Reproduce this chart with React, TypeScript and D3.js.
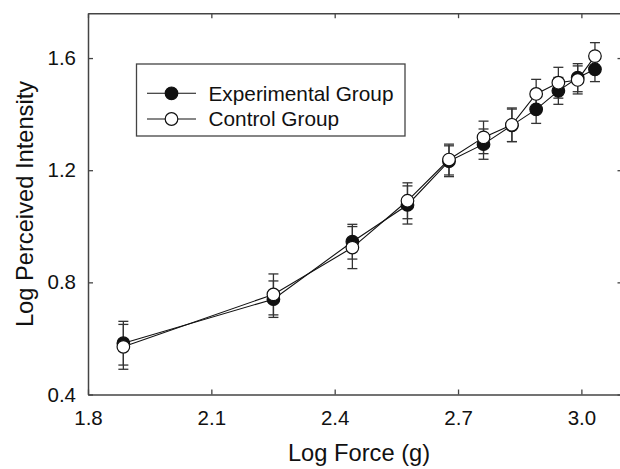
import React, { useEffect, useRef } from "react";
import * as d3 from "d3";

// log force levels (g) and group means / SE
const logForce = [1.886, 2.251, 2.443, 2.577, 2.678, 2.762, 2.831, 2.89, 2.944, 2.991, 3.033];
const experimental = [0.583, 0.74, 0.945, 1.076, 1.232, 1.293, 1.36, 1.417, 1.483, 1.53, 1.56];
const experimentalErr = [0.078, 0.065, 0.062, 0.068, 0.055, 0.054, 0.058, 0.05, 0.048, 0.05, 0.044];
const control = [0.57, 0.757, 0.924, 1.091, 1.238, 1.317, 1.362, 1.472, 1.512, 1.522, 1.607];
const controlErr = [0.08, 0.073, 0.075, 0.064, 0.055, 0.058, 0.06, 0.052, 0.055, 0.05, 0.048];
const xTicks = [1.8, 2.1, 2.4, 2.7, 3.0];
const yTicks = [0.4, 0.8, 1.2, 1.6];
const seriesNames = ["Experimental Group", "Control Group"];

const W = 620;
const H = 469;
const FONT = "'Liberation Sans', Arial, Helvetica, sans-serif";
const AXIS = "#444";

const x = d3.scaleLinear().domain([1.8, 3.1]).range([88, 622.5]);
const y = d3.scaleLinear().domain([0.4, 1.76]).range([394.5, 13.2]);

const App = () => {
  const ref = useRef<SVGGElement>(null);

  useEffect(() => {
    const g = d3.select(ref.current);
    g.selectAll("*").remove();

    const series = [
      { name: seriesNames[0], mean: experimental, err: experimentalErr, fill: "#111" },
      { name: seriesNames[1], mean: control, err: controlErr, fill: "#fff" },
    ];

    // frame axes, ticks inward
    const bottom = g.append("g").attr("transform", `translate(0,${y.range()[0]})`)
      .call(d3.axisBottom(x).tickValues(xTicks).tickFormat(d3.format(".1f"))
        .tickSizeInner(-5).tickSizeOuter(0).tickPadding(15.5));
    const left = g.append("g").attr("transform", `translate(${x.range()[0]},0)`)
      .call(d3.axisLeft(y).tickValues(yTicks).tickFormat(d3.format(".1f"))
        .tickSizeInner(-5).tickSizeOuter(0).tickPadding(12));
    const top = g.append("g").attr("transform", `translate(0,${y.range()[1]})`)
      .call(d3.axisTop(x).tickValues(xTicks).tickFormat(() => "")
        .tickSizeInner(-5).tickSizeOuter(0));
    const right = g.append("g").attr("transform", `translate(${x.range()[1]},0)`)
      .call(d3.axisRight(y).tickValues(yTicks).tickFormat(() => "")
        .tickSizeInner(-5).tickSizeOuter(0));

    [bottom, left, top, right].forEach(a => {
      a.select(".domain").attr("stroke", AXIS).attr("stroke-width", 1.5);
      a.selectAll(".tick line").attr("stroke", AXIS).attr("stroke-width", 1.3);
      a.selectAll("text").attr("fill", "#111").style("font-family", FONT).style("font-size", "20.5px");
    });

    // lines
    const line = d3.line<number>().x((d, i) => x(logForce[i])).y(d => y(d));
    series.forEach(s => {
      g.append("path")
        .attr("d", line(s.mean))
        .attr("fill", "none")
        .attr("stroke", "#111")
        .attr("stroke-width", 1.1);
    });

    // error bars
    series.forEach(s => {
      const eb = g.append("g").attr("stroke", "#333").attr("stroke-width", 1.3);
      s.mean.forEach((m, i) => {
        const cx = x(logForce[i]);
        const lo = y(m - s.err[i]);
        const hi = y(m + s.err[i]);
        eb.append("line").attr("x1", cx).attr("x2", cx).attr("y1", lo).attr("y2", hi);
        eb.append("line").attr("x1", cx - 5).attr("x2", cx + 5).attr("y1", lo).attr("y2", lo);
        eb.append("line").attr("x1", cx - 5).attr("x2", cx + 5).attr("y1", hi).attr("y2", hi);
      });
    });

    // markers
    series.forEach(s => {
      g.append("g").selectAll("circle")
        .data(s.mean)
        .enter()
        .append("circle")
        .attr("cx", (d, i) => x(logForce[i]))
        .attr("cy", d => y(d))
        .attr("r", 6.3)
        .attr("fill", s.fill)
        .attr("stroke", "#111")
        .attr("stroke-width", 1.2);
    });

    // legend
    const leg = g.append("g");
    leg.append("rect")
      .attr("x", 136.5).attr("y", 64).attr("width", 268.5).attr("height", 72)
      .attr("fill", "#fff").attr("stroke", AXIS).attr("stroke-width", 1.3);
    series.forEach((s, i) => {
      const ly = 93.3 + i * 25.7;
      leg.append("line").attr("x1", 147).attr("x2", 196).attr("y1", ly).attr("y2", ly)
        .attr("stroke", "#111").attr("stroke-width", 1.1);
      leg.append("circle").attr("cx", 171.5).attr("cy", ly).attr("r", 6.3)
        .attr("fill", s.fill).attr("stroke", "#111").attr("stroke-width", 1.2);
      leg.append("text").attr("x", 208.5).attr("y", ly + 7.3)
        .style("font-family", FONT).style("font-size", "20.8px").attr("fill", "#111")
        .text(s.name);
    });

    // axis titles
    g.append("text")
      .attr("x", 359).attr("y", 461)
      .attr("text-anchor", "middle")
      .style("font-family", FONT).style("font-size", "23.7px").attr("fill", "#111")
      .text("Log Force (g)");
    g.append("text")
      .attr("transform", `translate(33,204) rotate(-90)`)
      .attr("text-anchor", "middle")
      .style("font-family", FONT).style("font-size", "23.7px").attr("fill", "#111")
      .text("Log Perceived Intensity");
  }, []);

  return (
    <svg width={W} height={H} style={{ position: "absolute", left: 0, top: 0, background: "#fff" }}>
      <g ref={ref} />
    </svg>
  );
};

export default App;
